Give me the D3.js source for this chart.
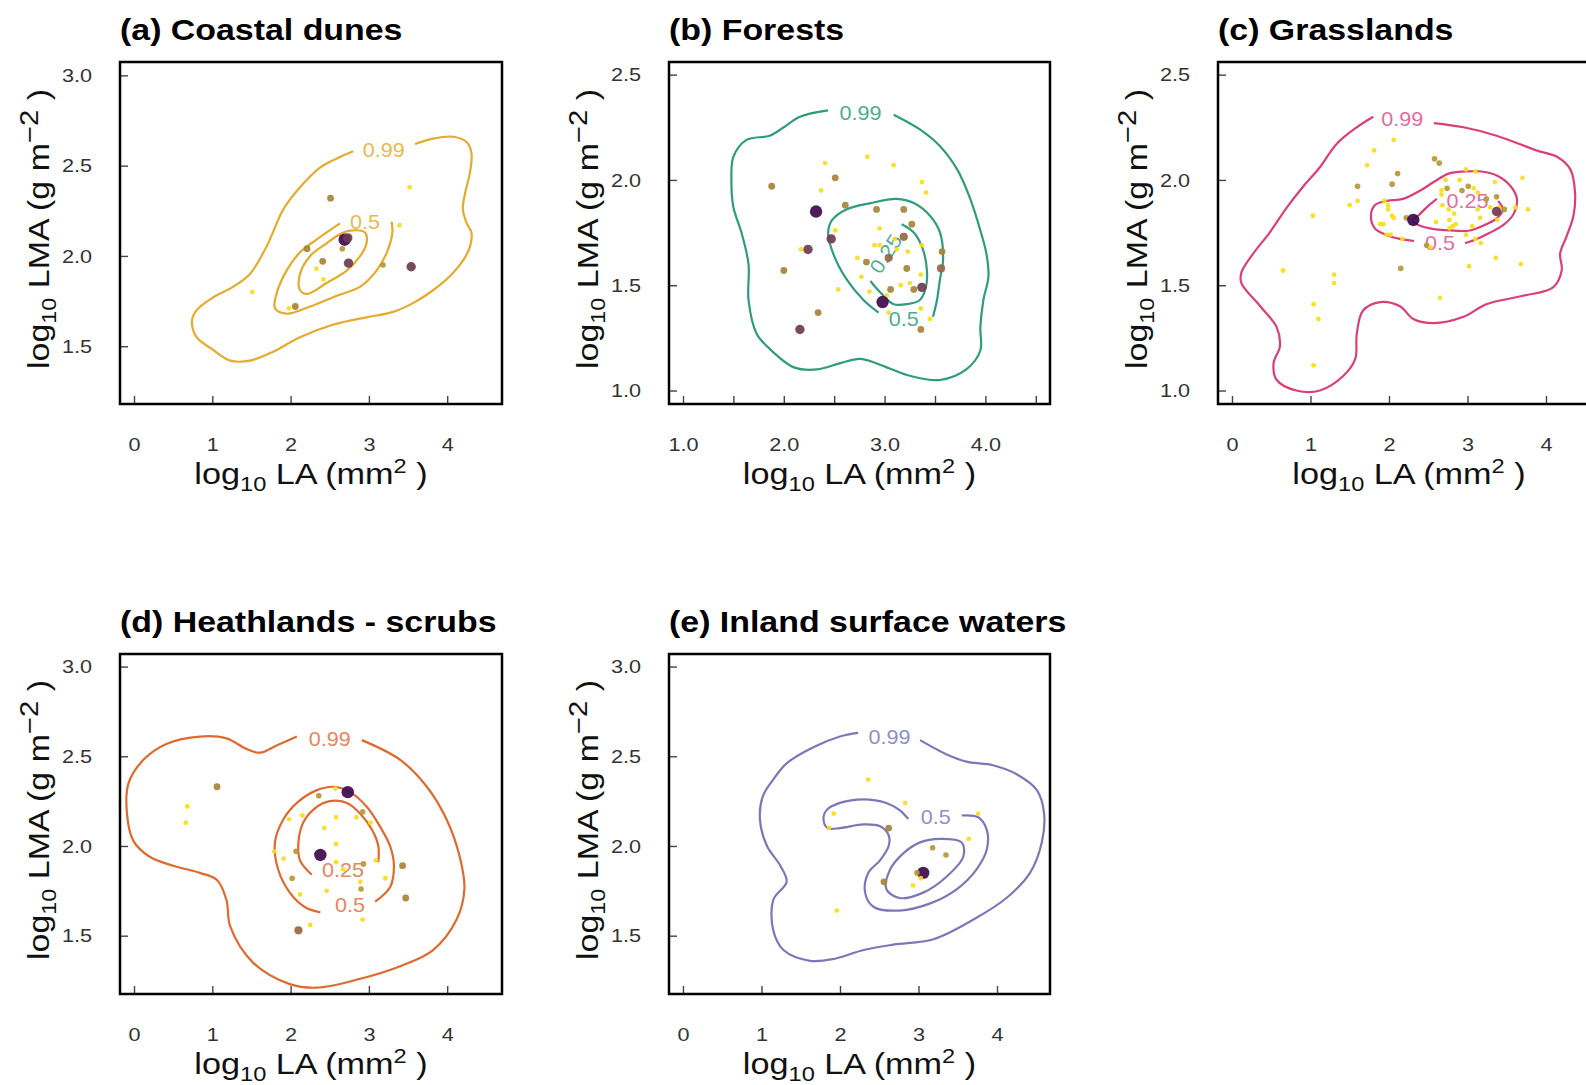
<!DOCTYPE html>
<html>
<head>
<meta charset="utf-8">
<script src="https://cdn.jsdelivr.net/npm/d3@7"></script>
<style>
  body { margin: 0; background: #fff; }
  text { font-family: "Liberation Sans", Arial, sans-serif; }
</style>
</head>
<body>
<script>
// titles and ticks
var titles = ["(a) Coastal dunes", "(b) Forests", "(c) Grasslands", "(d) Heathlands - scrubs", "(e) Inland surface waters"];
var xTicksInt = [0, 1, 2, 3, 4];
var xTicksForest = [1.0, 1.5, 2.0, 2.5, 3.0, 3.5, 4.0, 4.5];
var yTicksHigh = [1.5, 2.0, 2.5, 3.0];
var yTicksLow = [1.0, 1.5, 2.0, 2.5];

// points: [log10 LA, log10 LMA, abundance class]
var dunesPts = [[1.51,1.80,1],[3.52,2.38,1],[2.51,2.32,3],[3.39,2.17,1],[2.21,2.04,3],[2.69,2.09,6],[2.73,2.10,5],
  [2.66,2.04,2],[2.41,1.97,3],[2.74,1.96,5],[2.33,1.93,1],[2.42,1.87,1],[3.18,1.95,2],[3.54,1.94,5],[2.06,1.72,3],[1.98,1.71,1]];
var forestPts = [[2.83,2.11,1],[2.41,2.08,1],[3.09,2.07,1],[1.88,1.97,3],[2.51,2.01,3],[2.37,1.95,1],[3.37,1.99,1],[3.41,1.94,1],
  [2.61,1.88,3],[2.32,1.85,6],[2.92,1.86,3],[3.19,1.86,3],[2.51,1.76,1],[2.95,1.77,1],[3.27,1.79,3],[2.47,1.72,5],[3.19,1.73,4],
  [3.10,1.72,1],[2.17,1.67,1],[2.24,1.67,5],[2.90,1.69,1],[2.95,1.69,1],[3.12,1.67,1],[3.23,1.66,1],[3.37,1.69,1],[3.57,1.66,3],
  [2.73,1.63,1],[3.04,1.63,4],[2.82,1.61,3],[2.00,1.57,3],[3.22,1.58,3],[3.56,1.58,4],[2.77,1.54,1],[3.36,1.55,1],[2.54,1.48,1],
  [3.06,1.48,3],[3.16,1.50,1],[3.25,1.51,1],[3.29,1.48,3],[3.37,1.49,5],[2.85,1.47,1],[3.02,1.45,1],[2.98,1.42,6],[3.04,1.37,1],
  [2.34,1.37,3],[3.36,1.39,1],[3.45,1.34,1],[3.36,1.29,3],[2.16,1.29,5]];
var grassPts = [[2.06,2.19,1],[1.81,2.14,1],[1.72,2.07,1],[2.58,2.10,2],[2.64,2.08,2],[2.11,2.03,2],[3.70,2.01,1],[1.60,1.97,2],
  [2.04,1.98,2],[2.98,2.05,1],[3.10,2.04,1],[2.72,2.00,1],[2.90,2.00,1],[3.35,1.99,1],[2.74,1.96,2],[2.93,1.95,2],[3.01,1.97,2],
  [2.67,1.95,1],[2.67,1.93,1],[3.08,1.96,1],[3.13,1.94,1],[3.24,1.91,2],[3.37,1.92,2],[1.60,1.90,1],[1.50,1.88,1],[1.94,1.90,1],
  [1.99,1.88,1],[1.99,1.86,1],[2.68,1.88,1],[2.76,1.86,1],[2.83,1.84,1],[3.13,1.86,1],[3.16,1.82,1],[3.29,1.87,1],[3.40,1.87,1],
  [3.47,1.86,2],[3.61,1.87,1],[3.77,1.86,1],[2.22,1.82,2],[2.04,1.83,1],[2.06,1.82,1],[1.03,1.83,1],[2.60,1.80,1],[2.77,1.81,1],
  [2.85,1.79,1],[2.81,1.78,1],[2.77,1.77,1],[3.38,1.81,1],[3.06,1.78,1],[1.93,1.79,1],[1.89,1.79,1],[1.97,1.74,1],[2.02,1.74,1],
  [2.17,1.72,1],[2.98,1.74,1],[3.10,1.72,1],[3.17,1.70,1],[2.48,1.69,2],[2.53,1.68,1],[3.36,1.63,1],[3.02,1.59,1],[3.68,1.60,1],
  [2.15,1.58,2],[0.65,1.57,1],[1.30,1.55,1],[1.30,1.51,1],[2.65,1.44,1],[1.04,1.41,1],[1.10,1.34,1],[1.04,1.12,1],
  [3.37,1.85,5],[2.31,1.81,6]];
var heathPts = [[1.06,2.33,3],[0.68,2.22,1],[0.66,2.13,1],[2.57,2.32,1],[2.36,2.28,2],[2.92,2.19,2],[2.15,2.17,1],[1.98,2.15,1],
  [2.58,2.16,1],[2.84,2.16,1],[3.02,2.13,1],[2.43,2.10,1],[2.58,2.01,1],[2.07,1.97,2],[1.79,1.97,1],[1.91,1.93,1],[3.09,1.92,1],
  [2.93,1.90,2],[2.58,1.91,1],[2.67,1.87,1],[3.43,1.89,3],[2.02,1.82,2],[3.21,1.82,1],[2.89,1.80,1],[2.90,1.76,2],[2.46,1.75,1],
  [2.12,1.73,1],[3.47,1.71,3],[2.25,1.56,1],[2.10,1.53,4],[2.92,1.59,1],[2.73,2.30,6],[2.38,1.95,6]];
var waterPts = [[2.36,2.37,1],[2.83,2.24,1],[1.92,2.18,1],[1.86,2.10,1],[2.62,2.10,3],[3.76,2.18,1],[3.64,2.04,1],[3.18,1.99,2],
  [3.35,1.95,2],[3.06,1.85,6],[2.98,1.85,2],[3.03,1.82,1],[2.93,1.78,1],[2.56,1.80,3],[1.96,1.64,1]];

// density contours (0.99, 0.5, 0.25), traced in data units
var dunes99 = [[3.59,2.62],[3.82,2.65],[4.08,2.66],[4.25,2.63],[4.31,2.57],[4.29,2.46],[4.23,2.35],[4.20,2.26],[4.25,2.18],
  [4.31,2.13],[4.29,2.05],[4.21,1.98],[4.04,1.89],[3.82,1.81],[3.57,1.74],[3.31,1.69],[2.97,1.66],[2.55,1.62],[2.12,1.55],
  [1.78,1.47],[1.48,1.42],[1.23,1.42],[1.01,1.48],[0.80,1.55],[0.74,1.64],[0.80,1.70],[1.01,1.77],[1.27,1.83],[1.48,1.90],
  [1.69,2.05],[1.91,2.26],[2.12,2.38],[2.38,2.49],[2.59,2.54],[2.80,2.58]];
var dunes50 = [[3.29,2.19],[3.30,2.13],[3.23,2.02],[3.10,1.92],[2.89,1.83],[2.59,1.78],[2.25,1.72],[1.95,1.68],[1.80,1.71],
  [1.82,1.79],[1.95,1.92],[2.12,2.02],[2.33,2.09],[2.63,2.18]];
var dunes25 = [[2.76,2.14],[2.95,2.13],[2.97,2.07],[2.89,2.00],[2.72,1.92],[2.46,1.85],[2.21,1.79],[2.12,1.81],[2.12,1.90],
  [2.25,2.00],[2.46,2.07],[2.63,2.12]];
var dunesLabels = [[3.19,2.59,"0.99"],[2.95,2.19,"0.5"]];

var forest99 = [[3.09,2.31],[3.35,2.24],[3.55,2.16],[3.72,2.05],[3.85,1.91],[3.95,1.76],[4.01,1.65],[4.03,1.54],[3.98,1.43],
  [3.95,1.30],[3.95,1.19],[3.81,1.10],[3.55,1.05],[3.25,1.07],[3.02,1.11],[2.76,1.15],[2.56,1.13],[2.33,1.10],[2.10,1.11],
  [1.90,1.18],[1.73,1.27],[1.65,1.43],[1.65,1.60],[1.58,1.75],[1.50,1.87],[1.48,2.00],[1.50,2.11],[1.63,2.19],[1.86,2.21],
  [2.00,2.25],[2.16,2.30],[2.44,2.33]];
var forest50 = [[2.94,1.37],[2.79,1.43],[2.62,1.53],[2.49,1.65],[2.44,1.75],[2.48,1.81],[2.62,1.86],[2.86,1.89],[3.12,1.91],
  [3.29,1.89],[3.45,1.83],[3.55,1.75],[3.58,1.62],[3.55,1.53],[3.52,1.43],[3.48,1.35]];
var forest25 = [[3.17,1.79],[3.29,1.75],[3.38,1.67],[3.42,1.57],[3.41,1.49],[3.35,1.43],[3.22,1.41],[3.09,1.41],[2.99,1.45],
  [2.91,1.49],[2.86,1.52]];
var forestLabels = [[2.76,2.32,"0.99"],[3.19,1.34,"0.5"],[3.01,1.65,"0.25"]];

var grass99 = [[2.57,2.27],[2.95,2.25],[3.37,2.21],[3.88,2.14],[4.14,2.11],[4.31,2.05],[4.37,1.94],[4.35,1.83],[4.26,1.73],
  [4.18,1.65],[4.20,1.57],[4.09,1.49],[3.71,1.45],[3.24,1.41],[2.95,1.35],[2.57,1.32],[2.31,1.34],[2.14,1.40],[1.89,1.42],
  [1.67,1.38],[1.59,1.27],[1.57,1.15],[1.42,1.07],[1.12,1.00],[0.82,1.00],[0.57,1.05],[0.53,1.13],[0.61,1.21],[0.57,1.30],
  [0.36,1.40],[0.12,1.51],[0.12,1.56],[0.27,1.65],[0.48,1.75],[0.70,1.87],[0.91,1.97],[1.12,2.06],[1.33,2.17],[1.59,2.25],[1.80,2.30]];
var grass50 = [[2.32,1.71],[2.14,1.72],[1.96,1.74],[1.82,1.77],[1.77,1.83],[1.82,1.88],[1.97,1.90],[2.18,1.91],[2.40,1.95],
  [2.57,1.99],[2.76,2.03],[2.97,2.04],[3.18,2.04],[3.38,2.02],[3.55,1.97],[3.63,1.91],[3.59,1.84],[3.47,1.79],[3.29,1.75],
  [3.12,1.72],[2.97,1.70]];
var grass25 = [[3.39,1.90],[3.45,1.86],[3.38,1.82],[3.24,1.79],[3.03,1.76],[2.78,1.76],[2.52,1.77],[2.35,1.79],[2.30,1.81],
  [2.37,1.83],[2.48,1.87],[2.61,1.91]];
var grassLabels = [[2.17,2.29,"0.99"],[2.65,1.70,"0.5"],[3.00,1.90,"0.25"]];

var heath99 = [[2.91,2.59],[3.40,2.48],[3.74,2.33],[3.99,2.15],[4.16,1.94],[4.22,1.76],[4.12,1.59],[3.82,1.42],[3.40,1.33],
  [2.89,1.26],[2.33,1.21],[1.99,1.23],[1.52,1.35],[1.23,1.55],[1.18,1.70],[1.06,1.81],[0.84,1.85],[0.50,1.89],[0.20,1.94],
  [-0.01,2.03],[-0.09,2.18],[-0.07,2.35],[0.12,2.48],[0.42,2.57],[0.84,2.61],[1.18,2.60],[1.44,2.54],[1.61,2.52],[1.82,2.56],[2.08,2.61]];
var heath50 = [[3.08,1.69],[3.27,1.77],[3.32,1.89],[3.27,2.00],[3.14,2.11],[2.97,2.22],[2.76,2.30],[2.55,2.33],[2.33,2.31],
  [2.08,2.24],[1.91,2.15],[1.80,2.02],[1.84,1.87],[1.99,1.74],[2.18,1.66],[2.38,1.63]];
var heath25 = [[3.12,1.91],[3.12,2.00],[3.04,2.09],[2.89,2.18],[2.72,2.24],[2.50,2.25],[2.31,2.21],[2.16,2.13],[2.10,2.02],
  [2.12,1.92],[2.27,1.84]];
var heathLabels = [[2.50,2.60,"0.99"],[2.76,1.67,"0.5"],[2.67,1.87,"0.25"]];

var water99 = [[3.02,2.59],[3.36,2.51],[3.61,2.47],[3.95,2.45],[4.25,2.40],[4.51,2.31],[4.60,2.18],[4.57,2.02],[4.42,1.85],
  [4.12,1.71],[3.70,1.59],[3.19,1.48],[2.68,1.45],[2.30,1.42],[1.92,1.37],[1.62,1.36],[1.28,1.42],[1.15,1.53],[1.15,1.70],
  [1.32,1.80],[1.24,1.89],[1.07,2.00],[0.98,2.15],[1.02,2.28],[1.15,2.37],[1.32,2.46],[1.66,2.55],[2.00,2.61],[2.23,2.63]];
var water50 = [[3.55,2.17],[3.76,2.16],[3.87,2.09],[3.87,1.98],[3.74,1.87],[3.49,1.76],[3.15,1.68],[2.76,1.64],[2.43,1.66],
  [2.32,1.74],[2.36,1.85],[2.51,1.92],[2.62,2.00],[2.62,2.06],[2.51,2.11],[2.30,2.12],[2.00,2.10],[1.84,2.10],[1.79,2.15],
  [1.83,2.20],[2.00,2.24],[2.30,2.26],[2.59,2.24],[2.76,2.20],[2.87,2.15]];
var water25 = [[3.27,2.04],[3.55,2.02],[3.57,1.94],[3.36,1.83],[3.06,1.74],[2.76,1.71],[2.59,1.76],[2.64,1.87],[2.81,1.96],[3.02,2.02]];
var waterLabels = [[2.63,2.61,"0.99"],[3.22,2.16,"0.5"]];

// layout of the five panels
var panels = [
  {title: titles[0], left: 120, top: 62, w: 382, h: 342, xd: [-0.179, 4.70], yd: [1.180, 3.074],
   xt: xTicksInt, yt: yTicksHigh, xfmt: d3.format("d"), pts: dunesPts,
   contours: [[dunes99, false], [dunes50, false], [dunes25, true]], labels: dunesLabels, rot: [0, 0],
   color: "#E4AB2C", lab: "#E9B94F"},
  {title: titles[1], left: 669, top: 62, w: 381, h: 342, xd: [0.861, 4.641], yd: [0.936, 2.560],
   xt: xTicksForest, yt: yTicksLow, xfmt: function(d) { return d % 1 === 0 ? d3.format(".1f")(d) : ""; }, pts: forestPts,
   contours: [[forest99, false], [forest50, false], [forest25, false]], labels: forestLabels, rot: [0, 0, -57],
   color: "#2F9D7D", lab: "#4FAD91"},
  {title: titles[2], left: 1218, top: 62, w: 382, h: 342, xd: [-0.178, 4.688], yd: [0.936, 2.560],
   xt: xTicksInt, yt: yTicksLow, xfmt: d3.format("d"), pts: grassPts,
   contours: [[grass99, false], [grass50, false], [grass25, false]], labels: grassLabels, rot: [0, 0, 0],
   color: "#DA3F7B", lab: "#E36E9E"},
  {title: titles[3], left: 120, top: 654, w: 382, h: 340, xd: [-0.179, 4.70], yd: [1.175, 3.070],
   xt: xTicksInt, yt: yTicksHigh, xfmt: d3.format("d"), pts: heathPts,
   contours: [[heath99, false], [heath50, false], [heath25, false]], labels: heathLabels, rot: [0, 0, 0],
   color: "#E06A2E", lab: "#E68660"},
  {title: titles[4], left: 669, top: 654, w: 381, h: 340, xd: [-0.178, 4.675], yd: [1.175, 3.070],
   xt: xTicksInt, yt: yTicksHigh, xfmt: d3.format("d"), pts: waterPts,
   contours: [[water99, false], [water50, false], [water25, true]], labels: waterLabels, rot: [0, 0],
   color: "#7C78B8", lab: "#928EC4"}
];

var rClass = d3.scaleOrdinal().domain([1, 2, 3, 4, 5, 6]).range([2.4, 2.8, 3.4, 4.1, 4.7, 6.2]);
var cClass = d3.scaleOrdinal().domain([1, 2, 3, 4, 5, 6])
  .range(["#F6DD1E", "#B69836", "#A5843A", "#946842", "#6C3C50", "#3D0A4C"]);

// the reference type is set wider than Liberation Sans, so stretch along the text
var wideTitle = 1.13, wideAxis = 1.18, wideYAxis = 1.17, wideTick = 1.14, wideLab = 1.08;

var svg = d3.select("body").append("svg")
  .attr("width", 1586)
  .attr("height", 1085);
svg.append("rect").attr("width", 1586).attr("height", 1085).attr("fill", "#fff");

panels.forEach(function(p) {
  var g = svg.append("g");
  var x = d3.scaleLinear().domain(p.xd).range([p.left, p.left + p.w]);
  var y = d3.scaleLinear().domain(p.yd).range([p.top + p.h, p.top]);

  g.append("text")
    .attr("transform", "translate(" + p.left + "," + (p.top - 22) + ") scale(" + wideTitle + ",1)")
    .attr("font-size", 30)
    .attr("font-weight", "bold")
    .attr("fill", "#000")
    .text(p.title);

  // contours
  p.contours.forEach(function(c) {
    var line = d3.line()
      .x(function(d) { return x(d[0]); })
      .y(function(d) { return y(d[1]); })
      .curve(c[1] ? d3.curveCatmullRomClosed : d3.curveCatmullRom);
    g.append("path")
      .datum(c[0])
      .attr("d", line)
      .attr("fill", "none")
      .attr("stroke", p.color)
      .attr("stroke-width", 2.2);
  });

  g.selectAll(".clab")
    .data(p.labels)
    .enter().append("text")
    .attr("class", "clab")
    .attr("transform", function(d, i) {
      return "translate(" + x(d[0]) + "," + y(d[1]) + ") rotate(" + (p.rot[i] || 0) + ") scale(" + wideLab + ",1)";
    })
    .attr("text-anchor", "middle")
    .attr("dominant-baseline", "central")
    .attr("font-size", 20)
    .attr("fill", p.lab)
    .text(function(d) { return d[2]; });

  // points
  g.selectAll(".pt")
    .data(p.pts)
    .enter().append("circle")
    .attr("class", "pt")
    .attr("cx", function(d) { return x(d[0]); })
    .attr("cy", function(d) { return y(d[1]); })
    .attr("r", function(d) { return rClass(d[2]); })
    .attr("fill", function(d) { return cClass(d[2]); })
    .attr("fill-opacity", 0.92);

  // axes with inward ticks
  var xAxis = d3.axisBottom(x).tickValues(p.xt).tickFormat(p.xfmt)
    .tickSizeInner(-8).tickSizeOuter(0).tickPadding(34);
  var yAxis = d3.axisLeft(y).tickValues(p.yt).tickFormat(d3.format(".1f"))
    .tickSizeInner(-8).tickSizeOuter(0).tickPadding(28);

  var gx = g.append("g").attr("transform", "translate(0," + (p.top + p.h) + ")").call(xAxis);
  var gy = g.append("g").attr("transform", "translate(" + p.left + ",0)").call(yAxis);
  [gx, gy].forEach(function(a) {
    a.select(".domain").remove();
    a.selectAll("line").attr("stroke", "#444").attr("stroke-width", 1.4);
    a.selectAll("text")
      .attr("font-size", 19)
      .attr("fill", "#333")
      .attr("font-family", "'Liberation Sans', Arial, sans-serif")
      .attr("transform", function() {
        var tx = +d3.select(this).attr("x") || 0;
        return "translate(" + tx + ",0) scale(" + wideTick + ",1) translate(" + (-tx) + ",0)";
      });
  });

  g.append("rect")
    .attr("x", p.left)
    .attr("y", p.top)
    .attr("width", p.w)
    .attr("height", p.h)
    .attr("fill", "none")
    .attr("stroke", "#000")
    .attr("stroke-width", 2.5);

  // axis titles
  var xt = g.append("text")
    .attr("transform", "translate(" + (p.left + p.w / 2) + "," + (p.top + p.h + 80) + ") scale(" + wideAxis + ",1)")
    .attr("text-anchor", "middle")
    .attr("font-size", 29)
    .attr("fill", "#111");
  xt.append("tspan").text("log");
  xt.append("tspan").attr("font-size", 20).attr("dy", 7).text("10");
  xt.append("tspan").attr("dy", -7).text(" LA (mm");
  xt.append("tspan").attr("font-size", 20).attr("dy", -11).text("2");
  xt.append("tspan").attr("dy", 11).text(" )");

  var yt = g.append("text")
    .attr("transform", "translate(" + (p.left - 71) + "," + (p.top + p.h / 2 - 4) + ") rotate(-90) scale(" + wideYAxis + ",1)")
    .attr("text-anchor", "middle")
    .attr("font-size", 29)
    .attr("fill", "#111");
  yt.append("tspan").text("log");
  yt.append("tspan").attr("font-size", 20).attr("dy", 7).text("10");
  yt.append("tspan").attr("dy", -7).text(" LMA (g m");
  yt.append("tspan").attr("font-size", 25).attr("dy", -11).text("\u22122");
  yt.append("tspan").attr("dy", 11).text(" )");
});
</script>
</body>
</html>
